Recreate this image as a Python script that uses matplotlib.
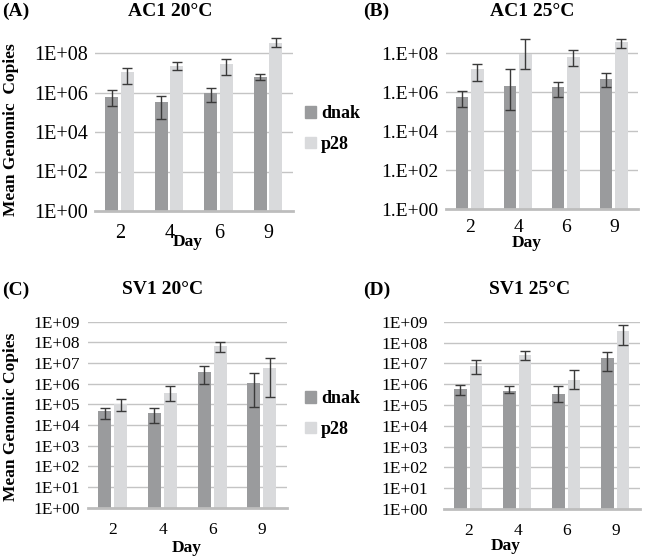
import matplotlib
matplotlib.use("Agg")
import matplotlib.pyplot as plt
from matplotlib.patches import Patch
from matplotlib.ticker import FixedLocator, FixedFormatter
import numpy as np

plt.rcParams['font.family'] = ['Liberation Serif', 'DejaVu Serif']

days = ['2', '4', '6', '9']
series = ['dnak', 'p28']

# mean genomic copies, lower / upper end of the error bars
ac1_20_dnak = [6.2e5, 3.3e5, 9.8e5, 5.9e6]
ac1_20_dnak_lo = [2.1e5, 4.6e4, 3.2e5, 4.3e6]
ac1_20_dnak_hi = [1.35e6, 6.9e5, 1.74e6, 8.7e6]
ac1_20_p28 = [1.05e7, 2.2e7, 2.9e7, 3.3e8]
ac1_20_p28_lo = [2.6e6, 1.4e7, 7.8e6, 2.1e8]
ac1_20_p28_hi = [1.74e7, 3.4e7, 4.8e7, 5.5e8]

ac1_25_dnak = [6.0e5, 2.2e6, 1.9e6, 4.7e6]
ac1_25_dnak_lo = [1.8e5, 1.2e5, 6.0e5, 1.8e6]
ac1_25_dnak_hi = [1.23e6, 1.6e7, 3.5e6, 1.0e7]
ac1_25_p28 = [1.6e7, 8.9e7, 6.5e7, 3.8e8]
ac1_25_p28_lo = [3.8e6, 1.5e7, 2.2e7, 1.95e8]
ac1_25_p28_hi = [2.8e7, 5.2e8, 1.4e8, 5.6e8]

sv1_20_dnak = [4.8e4, 3.8e4, 3.6e6, 1.07e6]
sv1_20_dnak_lo = [1.95e4, 1.2e4, 9.3e5, 7.8e4]
sv1_20_dnak_hi = [6.9e4, 6.5e4, 6.9e6, 3.4e6]
sv1_20_p28 = [1.05e5, 3.6e5, 6.9e7, 5.8e6]
sv1_20_p28_lo = [4.8e4, 1.5e5, 3.4e7, 2.2e5]
sv1_20_p28_hi = [1.86e5, 7.4e5, 1.0e8, 1.8e7]

sv1_25_dnak = [5.9e5, 4.9e5, 3.2e5, 1.9e7]
sv1_25_dnak_lo = [2.9e5, 3.6e5, 1.4e5, 4.2e6]
sv1_25_dnak_hi = [8.9e5, 7.9e5, 7.9e5, 3.4e7]
sv1_25_p28 = [7.2e6, 2.5e7, 1.66e6, 3.4e8]
sv1_25_p28_lo = [3.0e6, 1.45e7, 5.9e5, 7.4e7]
sv1_25_p28_hi = [1.4e7, 3.8e7, 4.7e6, 6.8e8]

DNAK_COL = '#9a9b9d'
P28_COL = '#d9dadc'
GRID_COL = '#c4c4c4'
ERR_COL = '#3a3a3a'


def panel(rect, title, tag, tag_x, title_x, title_y, dnak, dlo, dhi, p28, plo, phi,
          ticks, fmt, ylab, tick_fs, ytick_pad, xtick_pad, day_xy):
    ax = fig.add_axes(rect)
    x = np.arange(len(days))
    w = 0.26
    dnak = np.array(dnak)
    p28 = np.array(p28)
    derr = [dnak - np.array(dlo), np.array(dhi) - dnak]
    perr = [p28 - np.array(plo), np.array(phi) - p28]
    ax.bar(x - 0.165, dnak - 1, w, bottom=1, color=DNAK_COL, zorder=2)
    ax.bar(x + 0.155, p28 - 1, w, bottom=1, color=P28_COL, zorder=2)
    ax.errorbar(x - 0.165, dnak, yerr=derr, fmt='none', ecolor=ERR_COL,
                elinewidth=1, capsize=3.5, capthick=1, zorder=3)
    ax.errorbar(x + 0.155, p28, yerr=perr, fmt='none', ecolor=ERR_COL,
                elinewidth=1, capsize=3.5, capthick=1, zorder=3)
    ax.set_yscale('log')
    ax.set_ylim(1, 1e9)
    ax.set_xlim(-0.5, len(days) - 0.5)
    ax.yaxis.set_major_locator(FixedLocator(ticks))
    ax.yaxis.set_major_formatter(FixedFormatter([fmt.format(int(np.log10(t))) for t in ticks]))
    ax.yaxis.set_minor_locator(FixedLocator([]))
    ax.set_xticks(x)
    ax.set_xticklabels(days)
    ax.tick_params(axis='y', length=0, labelsize=tick_fs, pad=ytick_pad)
    ax.tick_params(axis='x', length=0, labelsize=tick_fs, pad=xtick_pad)
    for t in ticks[1:]:
        ax.axhline(t, color=GRID_COL, lw=1, zorder=1)
    for s in ['top', 'right', 'left']:
        ax.spines[s].set_visible(False)
    ax.spines['bottom'].set_color('#bdbdbd')
    ax.spines['bottom'].set_linewidth(2)
    ax.spines['bottom'].set_zorder(4)
    fig.text(title_x / 650, 1 - title_y / 558, title, ha='center', va='center',
             fontsize=14, fontweight='bold')
    fig.text(tag_x / 650, 1 - title_y / 558, tag, ha='left', va='center',
             fontsize=14, fontweight='bold')
    fig.text(day_xy[0] / 650, 1 - day_xy[1] / 558, 'Day', ha='center', va='center',
             fontsize=12.5, fontweight='bold')
    if ylab:
        fig.text(11 / 650, 1 - ylab[1] / 558, ylab[0], rotation=90, ha='center',
                 va='center', fontsize=12.5, fontweight='bold')
    return ax


fig = plt.figure(figsize=(6.5, 5.58), dpi=100)

even = [10.0 ** k for k in range(0, 9, 2)]
every = [10.0 ** k for k in range(0, 10)]

panel([95 / 650, 1 - 211 / 558, 198 / 650, 177.75 / 558], 'AC1 20°C', '(A)', 2, 170, 11,
      ac1_20_dnak, ac1_20_dnak_lo, ac1_20_dnak_hi, ac1_20_p28, ac1_20_p28_lo, ac1_20_p28_hi,
      even, '1E+{:02d}', ('Mean Genomic  Copies', 130), 14.5, 5, 9, (188, 242))
panel([446 / 650, 1 - 209.3 / 558, 192 / 650, 175.5 / 558], 'AC1 25°C', '(B)', 363, 532, 11,
      ac1_25_dnak, ac1_25_dnak_lo, ac1_25_dnak_hi, ac1_25_p28, ac1_25_p28_lo, ac1_25_p28_hi,
      even, '1.E+{:02d}', None, 14, 5.5, 7, (527, 243))
panel([88 / 650, 1 - 507.7 / 558, 199 / 650, 186 / 558], 'SV1 20°C', '(C)', 2, 163, 290,
      sv1_20_dnak, sv1_20_dnak_lo, sv1_20_dnak_hi, sv1_20_p28, sv1_20_p28_lo, sv1_20_p28_hi,
      every, '1E+{:02d}', ('Mean Genomic Copies', 417), 12.5, 6, 10, (187, 548))
panel([444 / 650, 1 - 509 / 558, 196 / 650, 187.3 / 558], 'SV1 25°C', '(D)', 363, 530, 290,
      sv1_25_dnak, sv1_25_dnak_lo, sv1_25_dnak_hi, sv1_25_p28, sv1_25_p28_lo, sv1_25_p28_hi,
      every, '1E+{:02d}', None, 12.5, 11.5, 10, (506, 546))

handles = [Patch(color=DNAK_COL), Patch(color=P28_COL)]
for ly in [129, 414]:
    fig.legend(handles, series, loc='center left', bbox_to_anchor=(305 / 650, 1 - ly / 558),
               frameon=False, handlelength=0.6, handleheight=0.6, handletextpad=0.3,
               labelspacing=0.75, borderpad=0, borderaxespad=0,
               prop={'size': 13, 'weight': 'bold'})

fig.savefig('out.png', dpi=100)
